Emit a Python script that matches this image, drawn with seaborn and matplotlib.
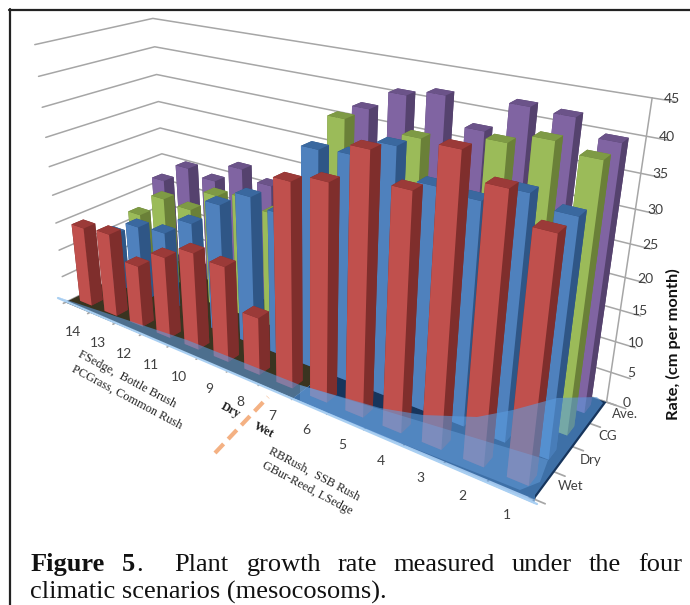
import numpy as np
import matplotlib
matplotlib.use('Agg')
import matplotlib.pyplot as plt
import seaborn as sns
from matplotlib.lines import Line2D
from matplotlib.patches import Polygon
from mpl_toolkits.mplot3d import proj3d
from mpl_toolkits.mplot3d.art3d import Poly3DCollection

categories = ['14', '13', '12', '11', '10', '9', '8', '7', '6', '5', '4', '3', '2', '1']
scenarios = ['Wet', 'Dry', 'CG', 'Ave.']
wet = [14.5, 15, 11, 14.3, 16.8, 16.3, 9.7, 32.5, 33.8, 39.5, 35.5, 42, 38.6, 34.7]
dry = [11, 14, 14.5, 17.8, 22.5, 25.3, 24, 35.2, 35.6, 38.2, 34, 33.5, 36, 34.5]
cg = [12.5, 17, 16.5, 20.5, 21.5, 20.2, 23, 38, 33, 37.5, 33, 39.3, 40.8, 39.6]
ave = [17, 20.7, 19.7, 23.2, 21.6, 20.5, 23, 37.9, 41, 42, 38, 42.5, 42.2, 40]
z_ticks = [0, 5, 10, 15, 20, 25, 30, 35, 40, 45]
front_colors = ['#C0504D', '#4F81BD', '#9BBB59', '#8064A2']
side_colors = ['#7F2E2C', '#2F5686', '#6A8038', '#55426E']
top_colors = ['#9B3A38', '#3A689F', '#7E9A45', '#6B5389']

W, H = 690, 605
sns.set_theme(style='white')
plt.rcParams['font.family'] = ['Lato', 'DejaVu Sans']
fig = plt.figure(figsize=(W / 100, H / 100), dpi=100, facecolor='white')
L = 656.9
ax = fig.add_axes([-26.9 / W, (H - 554.3) / H, L / W, L / H], projection='3d')
ax.set_proj_type('persp', focal_length=0.26)
ax.view_init(23.145, -54.145)
ax.set_box_aspect((14.279, 4.218, 7.436))
ax.computed_zorder = False
nx, ny = len(categories), len(scenarios)
ax.set_xlim(0, nx)
ax.set_ylim(0, ny)
ax.set_zlim(0, z_ticks[-1])
ax.grid(False)
for a in (ax.xaxis, ax.yaxis, ax.zaxis):
    a.pane.set_visible(False)
    a.line.set_color((0, 0, 0, 0))

# floor
ax.add_collection3d(Poly3DCollection([[(0, 0, 0), (8, 0, 0), (8, ny, 0), (0, ny, 0)]],
                                     facecolor='#3A3420', edgecolor='none', zorder=1))
ax.add_collection3d(Poly3DCollection([[(8, 0, 0), (nx, 0, 0), (nx, ny, 0), (8, ny, 0)]],
                                     facecolor='#17355C', edgecolor='none', zorder=1,
                                     clip_on=False))
# wall gridlines, running on past the corner as tick marks
for z in z_ticks:
    ax.plot([0, 0, nx + 0.45], [0, ny, ny], [z, z, z], color='#A6A6A6', lw=1.1, zorder=0.5, clip_on=False)
ax.plot([nx, nx], [ny, ny], [0, z_ticks[-1]], color='#A6A6A6', lw=1.1, zorder=0.5, clip_on=False)

# bars, far to near
series = [wet, dry, cg, ave]
dx, dy = 0.48, 0.40
az = np.radians(ax.azim)
bars = [(i, j) for j in range(ny) for i in range(nx)]
bars.sort(key=lambda b: np.cos(az) * (b[0] + .5) * 1.02 + np.sin(az) * (b[1] + .5) * 1.05)
for k, (i, j) in enumerate(bars):
    cols = [side_colors[j], top_colors[j], front_colors[j], side_colors[j], side_colors[j], side_colors[j]]
    b = ax.bar3d(i + .5 - dx / 2, j + .5 - dy / 2, 0, dx, dy, series[j][i], color=cols,
                 shade=False, edgecolor='none', linewidth=0, zorder=2 + k)
    b.set_clip_on(False)

ax.set_xticks(np.arange(nx + 1), [''] * (nx + 1))
ax.set_yticks(np.arange(ny + 1), [''] * (ny + 1))
ax.set_zticks(z_ticks, [''] * len(z_ticks))
ax.zaxis.set_ticks_position('none')
ax.tick_params(axis='both', color='#A6A6A6')

M = ax.get_proj()

def label3d(x, y, z, s, off, size):
    u, v, _ = proj3d.proj_transform(x, y, z, M)
    ax.annotate(s, (u, v), xytext=(off[0] * .72, -off[1] * .72), textcoords='offset points',
                ha='center', va='center', fontsize=size, color='#404040', annotation_clip=False)

for i, s in enumerate(categories):
    label3d(i + .5, 0, 0, s, (-4, 25), 10)
for j, s in enumerate(scenarios):
    label3d(nx, j + .5, 0, s, (26, 1), 9.5)
for z in z_ticks:
    label3d(nx, ny, z, str(z), (20, 1), 10)

def px(points):
    return [(x / W, 1 - y / H) for x, y in points]

# translucent sheet over the front of the floor
sheet = [(58, 297), (187, 340), (300, 385), (380, 408), (423, 415), (477, 417), (513, 410),
         (557, 398), (597, 397), (603, 403), (535, 495), (535, 504)]
fig.add_artist(Polygon(px(sheet), closed=True, transform=fig.transFigure, facecolor='#5B9BDF',
                       edgecolor='none', alpha=0.58))
band = [(300, 385), (548, 460), (540, 482), (520, 490), (490, 478), (380, 435), (300, 402)]
fig.add_artist(Polygon(px(band), closed=True, transform=fig.transFigure, facecolor='#6FA8E8',
                       edgecolor='none', alpha=0.4))
fig.add_artist(Line2D([58 / W, 537 / W], [1 - 298 / H, 1 - 504 / H], transform=fig.transFigure,
                      color='#A9CFF2', lw=1.6))

fig.text(673 / W, 1 - 344 / H, 'Rate, (cm per month)', rotation=90, ha='center', va='center',
         fontsize=11.8, fontweight='bold', color='#111111')

def note(x, y, s, weight='normal', size=8.8):
    fig.text(x / W, 1 - y / H, s, rotation=-28, rotation_mode='anchor', ha='center', va='center',
             family='Liberation Serif', fontsize=size, fontweight=weight, color='#222222')

note(127, 379, 'FSedge,  Bottle Brush')
note(127, 397, 'PCGrass, Common Rush')
note(231, 410, 'Dry', 'bold')
note(264, 430, 'Wet', 'bold')
note(314, 474, 'RBRush,  SSB Rush')
note(307, 488, 'GBur-Reed, LSedge')
fig.add_artist(Line2D([215 / W, 268 / W], [1 - 453 / H, 1 - 397 / H], transform=fig.transFigure,
                      color='#F4B183', lw=3, ls=(0, (3, 1.6))))

# frame
fig.add_artist(Line2D([9.5 / W, 9.5 / W], [0, 1 - 9 / H], transform=fig.transFigure, color='#222222', lw=1.6))
fig.add_artist(Line2D([9 / W, 1], [1 - 9.5 / H, 1 - 9.5 / H], transform=fig.transFigure, color='#222222', lw=1.6))

# caption
def cap(x, y, s, weight='normal'):
    fig.text(x / W, 1 - y / H, s, family='Liberation Serif', fontsize=19, fontweight=weight,
             va='baseline', ha='left', color='#111111')

cap(31, 571, 'Figure', 'bold')
cap(122, 571, '5', 'bold')
cap(136, 571, '.')
for x, w in [(174, 'Plant'), (247, 'growth'), (338, 'rate'), (393, 'measured'), (512, 'under'),
             (589, 'the'), (638, 'four')]:
    cap(x, 571, w)
cap(30, 599, 'climatic scenarios (mesocosoms).')
fig.savefig('out.png', dpi=100)
